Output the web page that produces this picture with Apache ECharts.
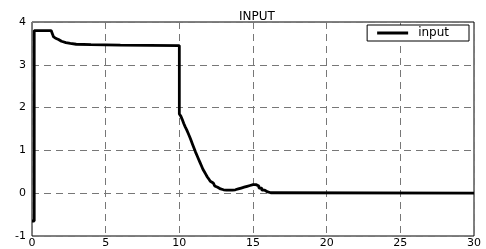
<!DOCTYPE html>
<html>
<head>
<meta charset="utf-8">
<script src="https://cdn.jsdelivr.net/npm/echarts@6/dist/echarts.min.js"></script>
<style>
  html, body { margin: 0; padding: 0; background: #fff; }
  #chart { width: 486px; height: 249px; }
</style>
</head>
<body>
<div id="chart"></div>
<script>
// time (s) and input values
const times = [0, 0.15, 1.3, 1.35, 1.4, 1.45, 1.5, 1.6, 1.8, 2.0, 2.3, 2.6, 3.0, 4.0, 6.0,
  10.0, 10.1, 10.2, 10.3, 10.4, 10.5, 10.6, 10.7, 10.8, 10.9,
  11.0, 11.1, 11.2, 11.3, 11.4, 11.5, 11.6, 11.7, 11.8, 11.9,
  12.0, 12.1, 12.2, 12.3, 12.4, 12.5, 12.6, 12.7, 12.8, 12.9,
  13.0, 13.2, 13.4, 13.6, 13.8, 14.0, 14.2, 14.4, 14.6, 14.8,
  15.0, 15.2, 15.4, 15.6, 15.8, 16.0, 16.2, 30];
const inputValues = [-0.65, 3.8, 3.8, 3.76, 3.71, 3.66, 3.62, 3.59, 3.55, 3.52, 3.5, 3.48, 3.47, 3.46, 3.45,
  1.85, 1.8, 1.72, 1.63, 1.55, 1.48, 1.4, 1.32, 1.23, 1.14,
  1.05, 0.96, 0.88, 0.8, 0.72, 0.64, 0.56, 0.5, 0.44, 0.38,
  0.33, 0.28, 0.24, 0.2, 0.17, 0.14, 0.12, 0.1, 0.09, 0.08,
  0.07, 0.07, 0.07, 0.08, 0.1, 0.12, 0.14, 0.16, 0.18, 0.2,
  0.2, 0.17, 0.12, 0.07, 0.03, 0.01, 0.0, 0.0];

const chart = echarts.init(document.getElementById('chart'));

const font = 'Liberation Sans, Arial, sans-serif';
const wideFont = 'DejaVu Sans, sans-serif';

const gridLine = {
  show: true,
  lineStyle: { color: '#777', type: [7, 5], width: 1 }
};

chart.setOption({
  animation: false,
  title: {
    text: 'INPUT',
    left: 252,
    top: 6,
    textAlign: 'center',
    textStyle: { fontFamily: wideFont, fontSize: 12, fontWeight: 'normal', color: '#000' }
  },
  legend: {
    data: ['input'],
    right: 17,
    top: 25,
    selectedMode: false,
    itemWidth: 31,
    itemHeight: 3,
    padding: [2, 20, 2, 10],
    borderColor: '#000',
    borderWidth: 1,
    borderRadius: 0,
    backgroundColor: '#fff',
    icon: 'rect',
    textStyle: { fontFamily: wideFont, fontSize: 12, lineHeight: 12, color: '#000', padding: [0, 0, 0, 5] }
  },
  grid: {
    left: 32, right: 12, top: 22, bottom: 13,
    show: true, borderColor: '#000', borderWidth: 1
  },
  xAxis: {
    type: 'value', min: 0, max: 30, interval: 5,
    axisLine: { show: false },
    axisTick: { show: false },
    splitLine: gridLine,
    axisLabel: { fontFamily: wideFont, fontSize: 11, color: '#000', margin: 2 }
  },
  yAxis: {
    type: 'value', min: -1, max: 4, interval: 1,
    axisLine: { show: false },
    axisTick: { show: false },
    splitLine: gridLine,
    axisLabel: { fontFamily: wideFont, fontSize: 11, color: '#000', margin: 6 }
  },
  series: [{
    name: 'input',
    type: 'line',
    step: 'end',
    showSymbol: false,
    data: times.map((t, i) => [t, inputValues[i]]),
    lineStyle: { color: '#000', width: 2.8 },
    itemStyle: { color: '#000' }
  }]
});
</script>
</body>
</html>
